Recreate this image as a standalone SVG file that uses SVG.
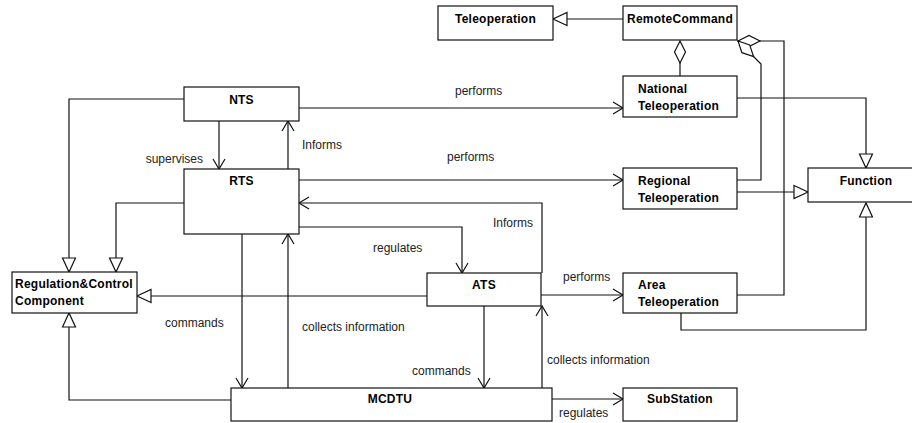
<svg xmlns="http://www.w3.org/2000/svg" width="912" height="423" viewBox="0 0 912 423">
<style>
  .box { fill: #fff; stroke: #111; stroke-width: 1.2; }
  .nt { font-family: "Liberation Sans", Arial, sans-serif; font-size: 12px; font-weight: bold; fill: #000; letter-spacing: 0.25px; }
  .c { text-anchor: middle; }
  .lb { font-family: "Liberation Sans", Arial, sans-serif; font-size: 12px; fill: #222; }
  .ln { fill: none; stroke: #111; stroke-width: 1.2; }
  .open { marker-end: url(#open); }
  .gen { marker-end: url(#tri); }
  .agg { marker-start: url(#dia); }
</style>
<defs>
  <marker id="open" markerUnits="userSpaceOnUse" viewBox="0 0 11 13" refX="10" refY="6.5" markerWidth="11" markerHeight="13" orient="auto" overflow="visible">
    <path d="M0,0.5 L10,6.5 L0,12.5" fill="none" stroke="#111" stroke-width="1.2"/>
  </marker>
  <marker id="tri" markerUnits="userSpaceOnUse" viewBox="0 0 15 14" refX="14" refY="7" markerWidth="15" markerHeight="14" orient="auto" overflow="visible">
    <path d="M0,0.5 L14,7 L0,13.5 Z" fill="#fff" stroke="#111" stroke-width="1.2"/>
  </marker>
  <marker id="dia" markerUnits="userSpaceOnUse" viewBox="0 0 23 12" refX="0" refY="6" markerWidth="23" markerHeight="12" orient="auto" overflow="visible">
    <path d="M0,6 L11,0.5 L22,6 L11,11.5 Z" fill="#fff" stroke="#111" stroke-width="1.2"/>
  </marker>
</defs>

<g id="connectors">
  <!-- RemoteCommand -> Teleoperation -->
  <path class="ln gen" d="M623,19 L553,19"/>
  <!-- aggregations to RemoteCommand -->
  <path class="ln agg" d="M680,41 L680,76"/>
  <path class="ln agg" d="M738,41 L784,41 L784,295 L737,295"/>
  <path class="ln agg" d="M738,41 L753.5,56.5 L761,64 L761,180 L737,180"/>
  <!-- to Function -->
  <path class="ln gen" d="M737,98 L866,98 L866,168"/>
  <path class="ln gen" d="M737,192 L808,192"/>
  <path class="ln gen" d="M681,313 L681,330 L866,330 L866,203"/>
  <!-- performs -->
  <path class="ln open" d="M299,108 L623,108"/>
  <path class="ln open" d="M299,180 L623,180"/>
  <path class="ln open" d="M541,295 L623,295"/>
  <!-- NTS/RTS -->
  <path class="ln open" d="M219,121 L219,169"/>
  <path class="ln open" d="M288,169 L288,121"/>
  <!-- ATS/RTS -->
  <path class="ln open" d="M542,273 L542,203 L299,203"/>
  <path class="ln open" d="M299,227 L462,227 L462,273"/>
  <!-- generalizations to Regulation&Control -->
  <path class="ln gen" d="M184,99 L69,99 L69,272"/>
  <path class="ln gen" d="M184,203 L116,203 L116,272"/>
  <path class="ln gen" d="M427,296 L137,296"/>
  <path class="ln gen" d="M231,400 L69,400 L69,313"/>
  <!-- RTS/MCDTU -->
  <path class="ln open" d="M242,234 L242,388"/>
  <path class="ln open" d="M288,388 L288,234"/>
  <!-- ATS/MCDTU -->
  <path class="ln open" d="M484,306 L484,388"/>
  <path class="ln open" d="M542,388 L542,306"/>
  <!-- MCDTU -> SubStation -->
  <path class="ln open" d="M552,399 L623,399"/>

  <text class="lb" x="455" y="95">performs</text>
  <text class="lb" x="447" y="161">performs</text>
  <text class="lb" x="563" y="281">performs</text>
  <text class="lb" x="203" y="163" text-anchor="end">supervises</text>
  <text class="lb" x="302" y="149">Informs</text>
  <text class="lb" x="493" y="227">Informs</text>
  <text class="lb" x="373" y="252">regulates</text>
  <text class="lb" x="165" y="327">commands</text>
  <text class="lb" x="302" y="331">collects information</text>
  <text class="lb" x="412" y="375">commands</text>
  <text class="lb" x="547" y="364">collects information</text>
  <text class="lb" x="559" y="417">regulates</text>
</g>

<g id="teleoperation">
  <rect class="box" x="438" y="6" width="115" height="34"/>
  <text class="nt c" x="495.5" y="23">Teleoperation</text>
</g>
<g id="remotecommand">
  <rect class="box" x="623" y="6" width="114" height="34"/>
  <text class="nt c" x="680" y="23">RemoteCommand</text>
</g>
<g id="nts">
  <rect class="box" x="184" y="87" width="115" height="34"/>
  <text class="nt c" x="241.5" y="104">NTS</text>
</g>
<g id="rts">
  <rect class="box" x="184" y="169" width="115" height="65"/>
  <text class="nt c" x="241.5" y="185">RTS</text>
</g>
<g id="national">
  <rect class="box" x="623" y="76" width="114" height="41"/>
  <text class="nt" x="638" y="93">National</text>
  <text class="nt" x="638" y="110">Teleoperation</text>
</g>
<g id="regional">
  <rect class="box" x="623" y="168" width="114" height="41"/>
  <text class="nt" x="638" y="185">Regional</text>
  <text class="nt" x="638" y="202">Teleoperation</text>
</g>
<g id="area">
  <rect class="box" x="623" y="273" width="114" height="40"/>
  <text class="nt" x="638" y="289">Area</text>
  <text class="nt" x="638" y="306">Teleoperation</text>
</g>
<g id="function">
  <rect class="box" x="808" y="168" width="110" height="34"/>
  <text class="nt c" x="866" y="185">Function</text>
</g>
<g id="regulation">
  <rect class="box" x="12" y="272" width="125" height="41"/>
  <text class="nt" x="15" y="288">Regulation&amp;Control</text>
  <text class="nt" x="15" y="305">Component</text>
</g>
<g id="ats">
  <rect class="box" x="427" y="273" width="114" height="33"/>
  <text class="nt c" x="484" y="289">ATS</text>
</g>
<g id="mcdtu">
  <rect class="box" x="231" y="388" width="321" height="33"/>
  <text class="nt c" x="390" y="403">MCDTU</text>
</g>
<g id="substation">
  <rect class="box" x="623" y="388" width="114" height="33"/>
  <text class="nt c" x="680" y="403">SubStation</text>
</g>
</svg>
